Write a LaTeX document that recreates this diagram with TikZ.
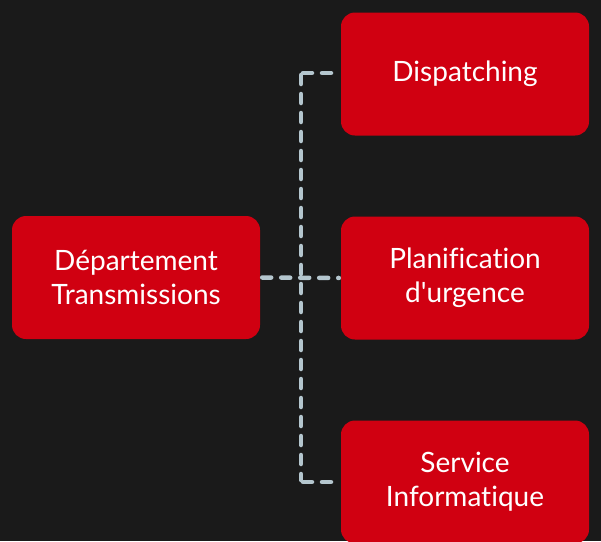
\documentclass[tikz,border=0pt]{standalone}
\usepackage{fontspec}
\setmainfont{Lato}[Ligatures={NoCommon}]
\usetikzlibrary{calc,positioning}
\definecolor{boxred}{RGB}{208,0,17}
\definecolor{linkgray}{RGB}{180,198,206}
\definecolor{bgdark}{RGB}{26,26,26}

\begin{document}
\begin{tikzpicture}[
        x=1pt, y=-1pt,
        unit box/.style = {
            fill=boxred,
            rounded corners=14pt,
            minimum width=248pt,
            minimum height=123pt,
            align=center,
            text=white,
            font=\fontsize{28}{34}\selectfont},
        link/.style = {
            draw=linkgray,
            line width=4.5pt,
            line cap=round,
            dash pattern=on 9pt off 10pt,
            shorten <=2pt, shorten >=2pt}
    ]
    \fill[bgdark] (0,0) rectangle (601,541);
    \useasboundingbox (0,0) rectangle (601,541);
    \begin{scope}
        \clip (0,0) rectangle (601,541);
        \node[unit box] (dept) at (136,277.5) {Département\\Transmissions};
        \node[unit box] (disp) at (465,74) {Dispatching};
        \node[unit box] (plan) at (465,278) {Planification\\d\textquotesingle urgence};
        \node[unit box] (info) at (465,482) {Service\\Informatique};
        \coordinate (T) at (301,73);
        \coordinate (B) at (301,482);
        \draw[link] (T) -- (B);
        \draw[link] (dept.east) -- (plan.west);
        \draw[link] (T) -- (disp.west |- T);
        \draw[link] (B) -- (info.west |- B);
    \end{scope}
\end{tikzpicture}
\end{document}
